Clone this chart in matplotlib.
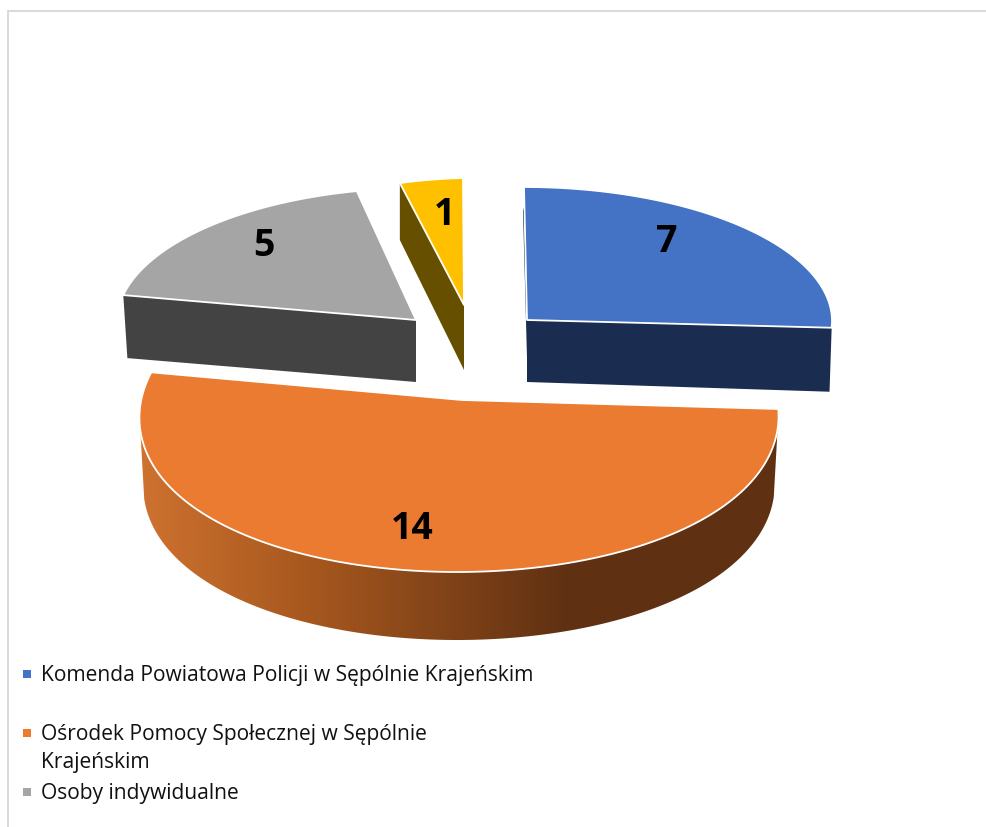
import numpy as np
import matplotlib
matplotlib.use('Agg')
import matplotlib.pyplot as plt
from matplotlib.colors import to_rgb
from matplotlib.patches import Polygon

# dane
values = [7, 14, 5, 1]
value_labels = ['7', '14', '5', '1']
legend_labels = ['Komenda Powiatowa Policji w Sępólnie Krajeńskim',
                 'Ośrodek Pomocy Społecznej w Sępólnie\nKrajeńskim',
                 'Osoby indywidualne']

colors = ['#4472C4', '#EA7B30', '#A5A5A5', '#FFC000']
dark_colors = ['#1A2C50', '#5F3012', '#434343', '#665000']

# geometria wycinkow: wierzcholek, srodek luku, promienie, pochylenie, perspektywa, glebokosc
apex = [(527, 320), (462, 400), (416, 320), (464, 305)]
center = [(527, 320), (459, 400), (416, 320), (464, 305)]
radius = [(305, 133), (318, 165), (299, 132), (274, 127)]
skew = [(-3, 0), (0, -1), (10, 2), (-1, -7)]
persp = [0, 0.1, 0, 0]
front_ry = [133, 172, 132, 127]
depth_apex = [62, 68, 62, 65]
depth_rim = [64, 68, 63, 57]
shrink = [0.993, 0.988, 0.986, 1.0]
label_pos = [(667, 242), (412, 529), (264, 246), (445, 215)]
legend_pos = [675, 734, 793]

plt.rcParams['font.family'] = ['Open Sans', 'DejaVu Sans']

fig = plt.figure(figsize=(9.87, 8.27), dpi=100)
ax = fig.add_axes([0, 0, 1, 1])

ax.plot([8, 987], [11, 11], color='#d9d9d9', lw=1.4)
ax.plot([8, 8], [11, 827], color='#d9d9d9', lw=1.4)


def rim(i, theta):
    t = np.radians(theta)
    rx, ry = radius[i]
    sk, tl = skew[i]
    ry = np.where(np.cos(t) < 0, front_ry[i], ry)
    x = center[i][0] + rx * np.sin(t) * (1 - persp[i] * np.cos(t)) + sk * np.cos(t)
    y = center[i][1] - ry * np.cos(t) + tl * np.sin(t)
    return x, y


edges = np.concatenate([[0], np.cumsum(values)]) / sum(values) * 360

for i in range(len(values)):
    a0, a1 = edges[i], edges[i + 1]
    xs, ys = rim(i, np.linspace(a0, a1, 200))
    x0, y0 = apex[i]

    if i == 1:
        # bok z gradientem
        wx, wy = rim(i, np.linspace(100, 260, 260))
        bx = center[i][0] + (wx - center[i][0]) * shrink[i]
        wall = np.column_stack([np.r_[wx, bx[::-1]], np.r_[wy, wy[::-1] + depth_rim[i]]])
        clip = Polygon(wall, closed=True, fc='none', ec='none', transform=ax.transData)
        ax.add_patch(clip)
        stops_c = np.array([to_rgb(c) for c in ['#CE7230', '#A9591F', '#5F3012', '#5F3012']])
        grid = np.linspace(130, 790, 660)
        grad = np.column_stack([np.interp(grid, [140, 300, 570, 780], stops_c[:, j]) for j in range(3)])
        im = ax.imshow(grad[np.newaxis, :, :], extent=[130, 790, 660, 380], aspect='auto', zorder=2)
        im.set_clip_path(clip)
    else:
        # sciana ciecia
        px, py = (xs[-1], ys[-1]) if i == 0 else (xs[0], ys[0])
        bx = x0 + (px - x0) * shrink[i]
        quad = [(x0, y0), (px, py), (bx, py + depth_rim[i]), (x0, y0 + depth_apex[i])]
        ax.add_patch(Polygon(quad, closed=True, fc=dark_colors[i], ec='none', zorder=2))
        if i == 0:
            # waski pasek z lewej strony
            sliver = [(xs[0], ys[0] + 20), (x0, y0), (x0, y0 + 38), (xs[0] - 1, ys[0] + 24)]
            ax.add_patch(Polygon(sliver, closed=True, fc=dark_colors[i], ec='none', zorder=2))

    top = np.column_stack([np.r_[x0, xs], np.r_[y0, ys]])
    ax.add_patch(Polygon(top, closed=True, fc=colors[i], ec='white', lw=1.3,
                         joinstyle='round', zorder=3))
    ax.text(label_pos[i][0], label_pos[i][1], value_labels[i], ha='center', va='center',
            fontsize=27, fontweight='bold', color='black', zorder=4)

for i, lab in enumerate(legend_labels):
    ax.scatter([26.5], [legend_pos[i] - 1], marker='s', s=33, color=colors[i], linewidths=0, zorder=4)
    first_line_y = legend_pos[i] - 10 if '\n' in lab else legend_pos[i]
    ax.text(41, first_line_y, lab, ha='left', va='top' if '\n' in lab else 'center',
            fontsize=15.17, color='#111111', linespacing=1.41, zorder=4)

ax.set_xlim(0, 987)
ax.set_ylim(827, 0)
ax.axis('off')

fig.savefig('out.png', dpi=100, facecolor='white')
